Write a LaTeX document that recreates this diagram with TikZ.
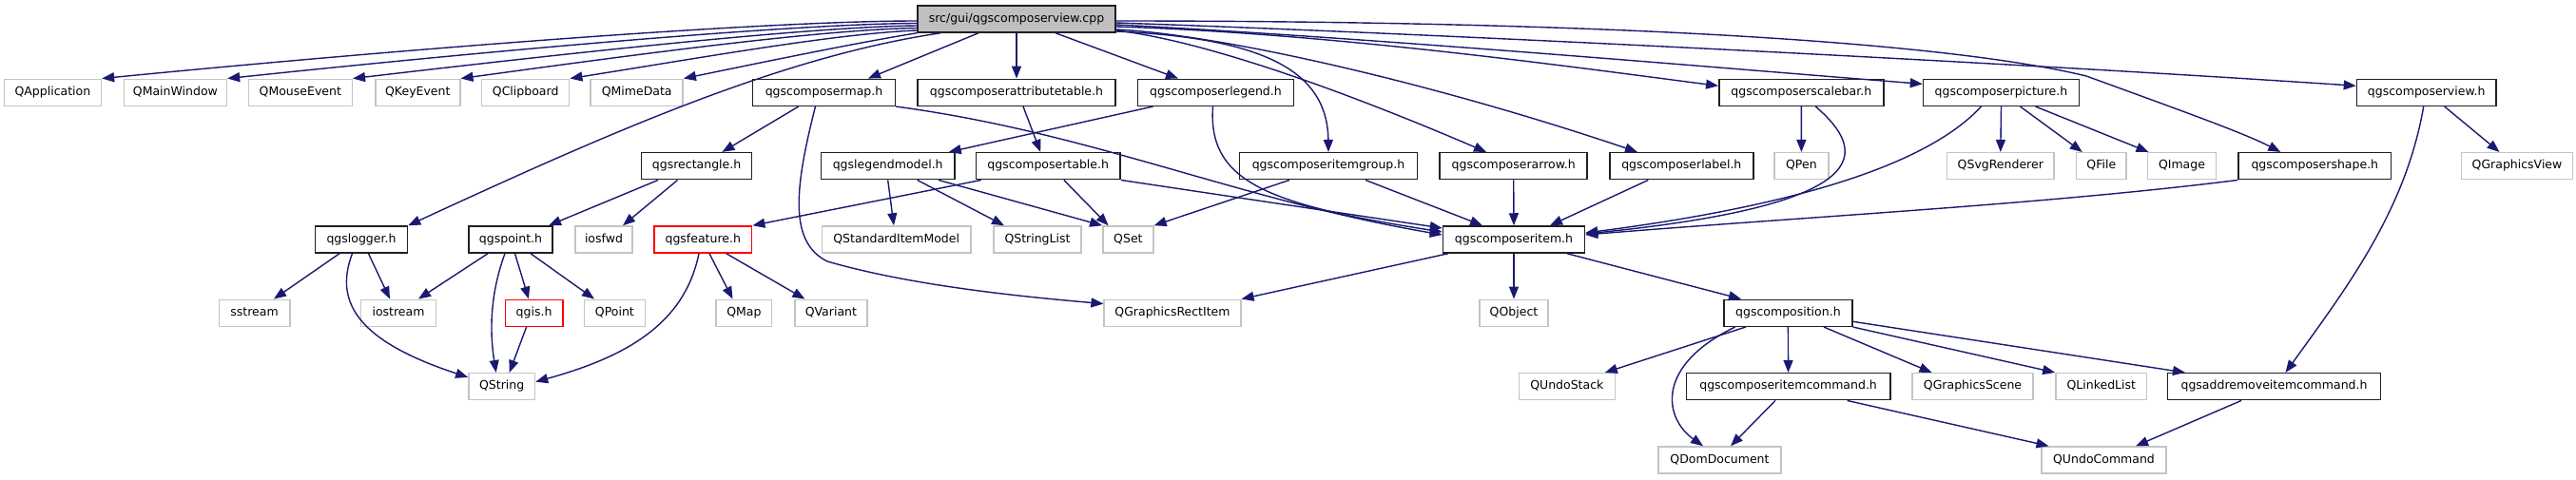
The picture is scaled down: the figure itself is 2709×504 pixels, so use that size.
\documentclass[tikz,border=0pt]{standalone}
\usepackage{fontspec}
\setmainfont{DejaVu Sans}
\usetikzlibrary{arrows.meta}
\definecolor{edgeblue}{HTML}{191970}
\definecolor{extgray}{HTML}{C4C4C4}
\definecolor{rootgray}{HTML}{BFBFBF}
\definecolor{hdrborder}{HTML}{202020}
\newcommand\nodefont{\fontsize{12.5pt}{15pt}\selectfont}
\begin{document}
\begin{tikzpicture}[x=1pt,y=-1pt,
  base/.style={rectangle, minimum height=28pt, inner sep=0pt, line width=1.5pt, font=\nodefont, text height=9.3pt, text depth=2.9pt},
  hdr/.style={base, draw=hdrborder, fill=white},
  ext/.style={base, draw=extgray, fill=white},
  trunc/.style={base, draw=red, fill=white},
  root/.style={base, draw=hdrborder, fill=rootgray},
  dep/.style={draw=edgeblue, line width=1.4pt, -{Triangle[length=13pt,width=10pt]}}]
\useasboundingbox (0,0) rectangle (2709,504);
% row 0
\node[root, minimum width=208pt] (cpp) at (1069,20) {src/gui/qgscomposerview.cpp};
% row 1
\node[ext, minimum width=102pt] (QApp) at (55.4,97.3) {QApplication};
\node[ext, minimum width=108pt] (QMainWin) at (184.4,97.3) {QMainWindow};
\node[ext, minimum width=109pt] (QMouse) at (315.8,97.3) {QMouseEvent};
\node[ext, minimum width=89pt] (QKey) at (439.3,97.3) {QKeyEvent};
\node[ext, minimum width=92pt] (QClip) at (552.7,97.3) {QClipboard};
\node[ext, minimum width=97pt] (QMime) at (669.7,97.3) {QMimeData};
\node[hdr, minimum width=150pt] (map) at (866.5,97.3) {qgscomposermap.h};
\node[hdr, minimum width=208pt] (attr) at (1069,97.3) {qgscomposerattributetable.h};
\node[hdr, minimum width=164pt] (legend) at (1278.5,97.3) {qgscomposerlegend.h};
\node[hdr, minimum width=173pt] (scale) at (1894.3,97.3) {qgscomposerscalebar.h};
\node[hdr, minimum width=164pt] (pict) at (2104.5,97.3) {qgscomposerpicture.h};
\node[hdr, minimum width=146.5pt] (view) at (2551.7,97.3) {qgscomposerview.h};
% row 2
\node[hdr, minimum width=116pt] (rect) at (732.6,174.7) {qgsrectangle.h};
\node[hdr, minimum width=140.6pt] (lmodel) at (933.7,174.7) {qgslegendmodel.h};
\node[hdr, minimum width=151.8pt] (table) at (1102.2,174.7) {qgscomposertable.h};
\node[hdr, minimum width=187pt] (group) at (1397,174.7) {qgscomposeritemgroup.h};
\node[hdr, minimum width=155pt] (arrow) at (1591.7,174.7) {qgscomposerarrow.h};
\node[hdr, minimum width=151pt] (label) at (1768.3,174.7) {qgscomposerlabel.h};
\node[ext, minimum width=56.7pt] (QPen) at (1894.4,174.7) {QPen};
\node[ext, minimum width=112.6pt] (QSvg) at (2103.8,174.7) {QSvgRenderer};
\node[ext, minimum width=52.5pt] (QFile) at (2209.8,174.7) {QFile};
\node[ext, minimum width=72pt] (QImage) at (2294.5,174.7) {QImage};
\node[hdr, minimum width=160.5pt] (shape) at (2434.3,174.7) {qgscomposershape.h};
\node[ext, minimum width=116.7pt] (QGView) at (2647,174.7) {QGraphicsView};
% row 3
\node[hdr, minimum width=97pt] (logger) at (380,252) {qgslogger.h};
\node[hdr, minimum width=88.4pt] (point) at (537,252) {qgspoint.h};
\node[ext, minimum width=60.3pt] (iosfwd) at (635,252) {iosfwd};
\node[trunc, minimum width=102.7pt] (feature) at (739.3,252) {qgsfeature.h};
\node[ext, minimum width=156.7pt] (QSIM) at (942.7,252) {QStandardItemModel};
\node[ext, minimum width=92pt] (QSL) at (1091,252) {QStringList};
\node[ext, minimum width=53pt] (QSet) at (1186.4,252) {QSet};
\node[hdr, minimum width=149pt] (item) at (1592,252) {qgscomposeritem.h};
% row 4
\node[ext, minimum width=74.5pt] (sstream) at (267.6,329.3) {sstream};
\node[ext, minimum width=79pt] (iostream) at (419,329.3) {iostream};
\node[trunc, minimum width=60.7pt] (qgis) at (561.6,329.3) {qgis.h};
\node[ext, minimum width=64.3pt] (QPoint) at (646.4,329.3) {QPoint};
\node[ext, minimum width=58.5pt] (QMap) at (782.4,329.3) {QMap};
\node[ext, minimum width=76.3pt] (QVariant) at (873.9,329.3) {QVariant};
\node[ext, minimum width=143.7pt] (QGRI) at (1233,329.3) {QGraphicsRectItem};
\node[ext, minimum width=72.3pt] (QObject) at (1592,329.3) {QObject};
\node[hdr, minimum width=134.9pt] (comp) at (1880.4,329.3) {qgscomposition.h};
% row 5
\node[ext, minimum width=69.6pt] (QString) at (527.7,406.7) {QString};
\node[ext, minimum width=101pt] (QUndoStack) at (1647.8,406.7) {QUndoStack};
\node[hdr, minimum width=214.7pt] (itemcmd) at (1880.6,406.7) {qgscomposeritemcommand.h};
\node[ext, minimum width=127pt] (QGScene) at (2074.5,406.7) {QGraphicsScene};
\node[ext, minimum width=95.8pt] (QLL) at (2209.8,406.7) {QLinkedList};
\node[hdr, minimum width=224.3pt] (addrem) at (2391.5,406.7) {qgsaddremoveitemcommand.h};
% row 6
\node[ext, minimum width=129.4pt] (QDom) at (1808.5,484) {QDomDocument};
\node[ext, minimum width=131pt] (QUndoCmd) at (2212.5,484) {QUndoCommand};

% edges from cpp
\draw[dep] ([yshift=-2pt]cpp.west) .. controls (800,22) and (420,52) .. (QApp.north east);
\draw[dep] ([yshift=-4.5pt]cpp.west) .. controls (830,25) and (500,55) .. (QMainWin.north east);
\draw[dep] ([yshift=-7pt]cpp.west) .. controls (850,28) and (580,58) .. (QMouse.north east);
\draw[dep] ([yshift=-9.5pt]cpp.west) .. controls (860,31) and (650,60) .. (QKey.north east);
\draw[dep] ([yshift=-12pt]cpp.west) .. controls (880,35) and (730,62) .. (QClip.north east);
\draw[dep] (cpp.south west) .. controls (900,45) and (790,68) .. (QMime.north east);
\draw[dep] ([xshift=-80pt]cpp.south) .. controls (820,60) and (640,140) .. (logger.north east);
\draw[dep] ([xshift=-40pt]cpp.south) -- ([xshift=46.5pt]map.north);
\draw[dep] (cpp.south) -- (attr.north);
\draw[dep] ([xshift=41pt]cpp.south) -- ([xshift=-39.5pt]legend.north);
\draw[dep] ([yshift=-13pt]cpp.east) .. controls (1330,40) and (1396,75) .. (group.north);
\draw[dep] ([yshift=-12pt]cpp.east) .. controls (1260,42) and (1400,90) .. ([xshift=-28.7pt]arrow.north);
\draw[dep] ([yshift=-11pt]cpp.east) .. controls (1280,36) and (1500,85) .. ([xshift=-46.3pt]label.north);
\draw[dep] ([yshift=-8pt]cpp.east) .. controls (1400,35) and (1650,70) .. ([yshift=7pt]scale.west);
\draw[dep] ([yshift=-6pt]cpp.east) .. controls (1450,40) and (1850,75) .. ([yshift=9pt]pict.west);
\draw[dep] ([yshift=-2pt]cpp.east) .. controls (1700,22) and (2050,45) .. (2194,80) .. controls (2290,115) and (2360,140) .. ([xshift=-36pt]shape.north);
\draw[dep] ([yshift=-4pt]cpp.east) .. controls (1500,35) and (2100,65) .. ([yshift=7pt]view.west);

% second level
\draw[dep] ([xshift=-26.8pt]map.south) -- ([xshift=26.8pt]rect.north);
\draw[dep] ([xshift=-9pt]map.south) .. controls (835,200) and (830,255) .. (870,275) .. controls (950,298) and (1050,310) .. ([yshift=-5pt]QGRI.north west);
\draw[dep] (map.south east) .. controls (1150,140) and (1300,210) .. ([yshift=5pt]item.west);
\draw[dep] ([xshift=7pt]attr.south) -- ([xshift=-8pt]table.north);
\draw[dep] ([xshift=-66pt]legend.south) -- ([xshift=64pt]lmodel.north);
\draw[dep] ([xshift=-3pt]legend.south) .. controls (1270,190) and (1330,215) .. ([yshift=8pt]item.west);
\draw[dep] ([xshift=-40.6pt]rect.south) -- ([xshift=40pt]point.north);
\draw[dep] ([xshift=-20pt]rect.south) -- ([xshift=20pt]iosfwd.north);
\draw[dep] (lmodel.south) -- ([xshift=-2.7pt]QSIM.north);
\draw[dep] ([xshift=31pt]lmodel.south) -- ([xshift=-35pt]QSL.north);
\draw[dep] ([xshift=53.3pt]lmodel.south) -- (QSet.north west);
\draw[dep] ([xshift=-70.5pt]table.south) -- (feature.north east);
\draw[dep] ([xshift=16.6pt]table.south) -- ([xshift=-20.8pt]QSet.north);
\draw[dep] (table.south east) -- ([yshift=12pt]item.west);
\draw[dep] ([xshift=-41pt]group.south) -- (QSet.north east);
\draw[dep] ([xshift=39pt]group.south) -- ([xshift=-33pt]item.north);
\draw[dep] (arrow.south) -- (item.north);
\draw[dep] ([xshift=-35pt]label.south) -- ([xshift=38pt]item.north);
\draw[dep] (scale.south) -- (QPen.north);
\draw[dep] ([xshift=15pt]scale.south) .. controls (1965,160) and (1975,215) .. ([yshift=6pt]item.east);
\draw[dep] ([xshift=-21pt]pict.south) .. controls (2030,170) and (1900,215) .. ([yshift=7pt]item.east);
\draw[dep] (pict.south) -- (QSvg.north);
\draw[dep] ([xshift=20pt]pict.south) -- ([xshift=-20pt]QFile.north);
\draw[dep] ([xshift=36pt]pict.south) -- ([xshift=-35pt]QImage.north);
\draw[dep] (shape.south west) .. controls (2150,215) and (1900,228) .. ([yshift=5pt]item.east);
\draw[dep] ([xshift=19pt]view.south) -- ([xshift=-18.5pt]QGView.north);
\draw[dep] ([xshift=-3pt]view.south) .. controls (2530,220) and (2470,300) .. ([xshift=12pt]addrem.north);

% lower levels
\draw[dep] ([xshift=-23pt]logger.south) -- ([xshift=20.4pt]sstream.north);
\draw[dep] ([xshift=-9.5pt]logger.south) .. controls (350,320) and (380,360) .. ([yshift=-5pt]QString.north west);
\draw[dep] ([xshift=7.5pt]logger.south) -- ([xshift=-9pt]iostream.north);
\draw[dep] ([xshift=-24pt]point.south) -- ([xshift=21pt]iostream.north);
\draw[dep] ([xshift=-6pt]point.south) .. controls (515,310) and (515,350) .. ([xshift=-6pt]QString.north);
\draw[dep] ([xshift=4.5pt]point.south) -- ([xshift=-5.6pt]qgis.north);
\draw[dep] ([xshift=21pt]point.south) -- ([xshift=-21.4pt]QPoint.north);
\draw[dep] ([xshift=-8pt]qgis.south) -- ([xshift=8pt]QString.north);
\draw[dep] ([xshift=-4.3pt]feature.south) .. controls (720,340) and (660,375) .. ([yshift=5pt]QString.east);
\draw[dep] ([xshift=6.7pt]feature.south) -- ([xshift=-11.9pt]QMap.north);
\draw[dep] ([xshift=24.5pt]feature.south) -- ([xshift=-27.5pt]QVariant.north);
\draw[dep] ([xshift=-69pt]item.south) -- (QGRI.north east);
\draw[dep] (item.south) -- (QObject.north);
\draw[dep] ([xshift=56pt]item.south) -- ([xshift=-49.4pt]comp.north);
\draw[dep] ([xshift=-44.7pt]comp.south) -- ([xshift=40pt]QUndoStack.north);
\draw[dep] ([xshift=-55.8pt]comp.south) .. controls (1740,385) and (1750,440) .. ([xshift=-17.5pt]QDom.north);
\draw[dep] (comp.south) -- (itemcmd.north);
\draw[dep] ([xshift=37.6pt]comp.south) -- ([xshift=-43pt]QGScene.north);
\draw[dep] (comp.south east) -- (QLL.north west);
\draw[dep] ([yshift=-9pt]comp.east) -- ([xshift=-93.5pt]addrem.north);
\draw[dep] ([xshift=-13.6pt]itemcmd.south) -- ([xshift=11.5pt]QDom.north);
\draw[dep] ([xshift=62pt]itemcmd.south) -- ([xshift=-58pt]QUndoCmd.north);
\draw[dep] ([xshift=-34.5pt]addrem.south) -- ([xshift=33.5pt]QUndoCmd.north);
\end{tikzpicture}
\end{document}
